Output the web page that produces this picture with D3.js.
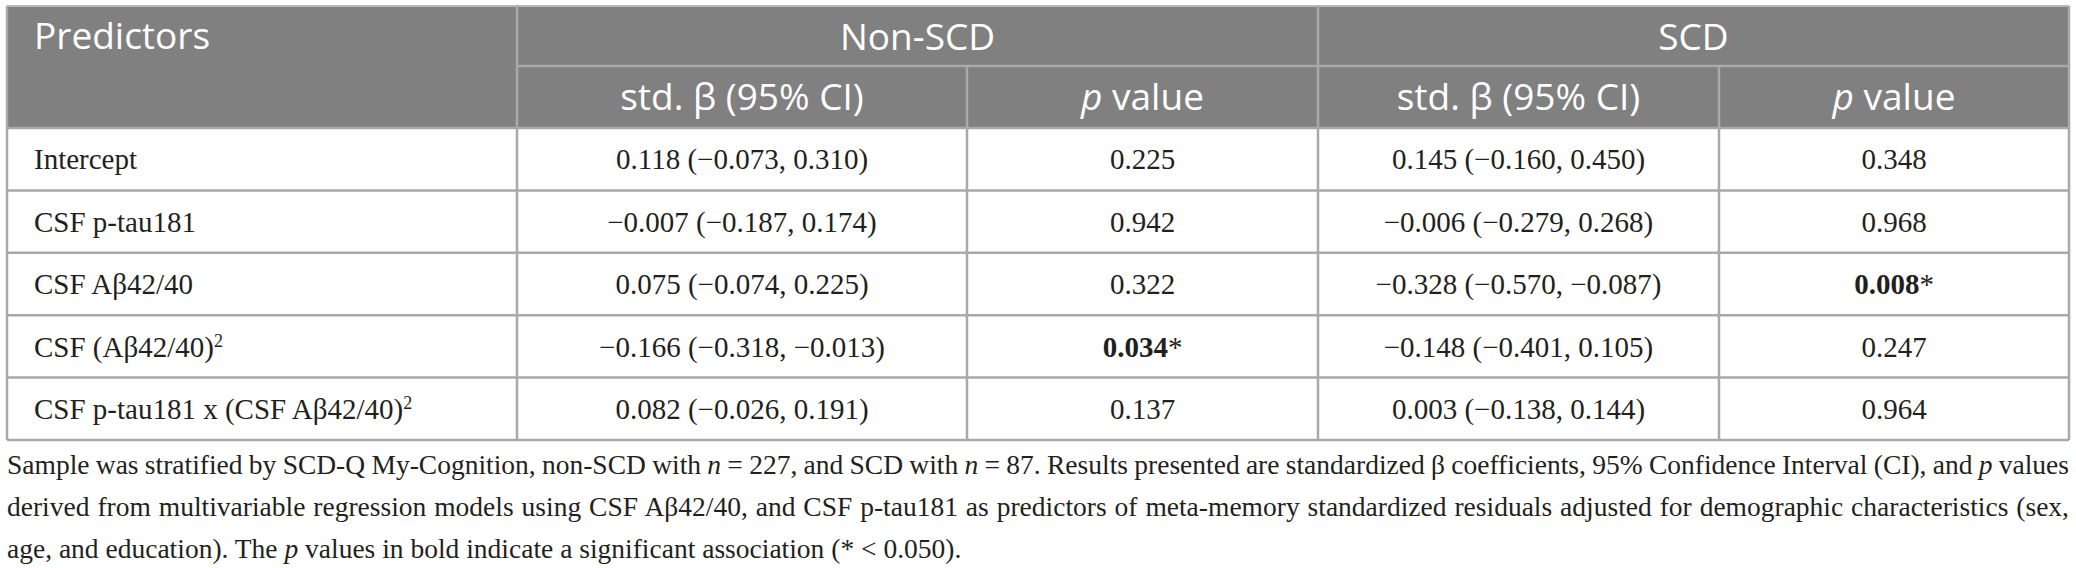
<!DOCTYPE html>
<html>
<head>
<meta charset="utf-8">
<script src="https://cdn.jsdelivr.net/npm/d3@7"></script>
<style>
  body { margin: 0; background: #fff; }
  svg { display: block; }
</style>
</head>
<body>
<svg id="chart" width="2076" height="568"></svg>
<script>
// table content
let groups = ["Non-SCD", "SCD"];
let subHeaders = ["std. β (95% CI)", "_p_ value"];
let predictors = ["Intercept", "CSF p-tau181", "CSF Aβ42/40", "CSF (Aβ42/40)^2", "CSF p-tau181 x (CSF Aβ42/40)^2"];
// [estimate, lower, upper]
let nonScdBeta = [[0.118, -0.073, 0.310], [-0.007, -0.187, 0.174], [0.075, -0.074, 0.225], [-0.166, -0.318, -0.013], [0.082, -0.026, 0.191]];
let nonScdP = [0.225, 0.942, 0.322, 0.034, 0.137];
let scdBeta = [[0.145, -0.160, 0.450], [-0.006, -0.279, 0.268], [-0.328, -0.570, -0.087], [-0.148, -0.401, 0.105], [0.003, -0.138, 0.144]];
let scdP = [0.348, 0.968, 0.008, 0.247, 0.964];
let alpha = 0.05;
let footnoteLines = [
  "Sample was stratified by SCD-Q My-Cognition, non-SCD with _n_ = 227, and SCD with _n_ = 87. Results presented are standardized β coefficients, 95% Confidence Interval (CI), and _p_ values",
  "derived from multivariable regression models using CSF Aβ42/40, and CSF p-tau181 as predictors of meta-memory standardized residuals adjusted for demographic characteristics (sex,",
  "age, and education). The _p_ values in bold indicate a significant association (* < 0.050)."
];

let svg = d3.select("#chart");
let fmt = d3.format(".3f"); // d3 v7 uses the real minus sign

let left = 7, right = 2069;
let colEdges = [left, 517, 967, 1318, 1719, right];
let headTop = 6, headMid = 66, headBottom = 128, tableBottom = 440;
let lineColor = "#a9a9a9";
let headFill = "#808080";
let serif = "'Liberation Serif', 'Times New Roman', serif";
let sans = "'Open Sans', 'Noto Sans', sans-serif";

let y = d3.scaleBand().domain(predictors).range([headBottom, tableBottom]);

// writes "_italic_" and "^sup" markup into tspans
function richText(sel, str, supSize) {
  let parts = str.split(/(\^\d+)/);
  parts.forEach(function (p) {
    if (p.startsWith("^")) {
      sel.append("tspan").attr("baseline-shift", "super").attr("font-size", supSize).text(p.slice(1));
      return;
    }
    p.split("_").forEach(function (s, i) {
      if (s === "") return;
      let t = sel.append("tspan").text(s);
      if (i % 2 == 1) t.attr("font-style", "italic");
    });
  });
}

// header background
svg.append("rect")
  .attr("x", left).attr("y", headTop)
  .attr("width", right - left).attr("height", headBottom - headTop)
  .attr("fill", headFill);

// body rows
let rows = predictors.map(function (d, i) {
  return {
    label: d,
    cells: [nonScdBeta[i], nonScdP[i], scdBeta[i], scdP[i]]
  };
});

// header texts
svg.append("text")
  .attr("x", 34).attr("y", 49)
  .attr("font-family", sans).attr("font-size", 37).attr("fill", "#fff")
  .text("Predictors");

svg.selectAll(".group")
  .data(groups)
  .enter()
  .append("text")
  .attr("class", "group")
  .attr("x", function (d, i) { return (colEdges[1 + i * 2] + colEdges[3 + i * 2]) / 2; })
  .attr("y", 50)
  .attr("text-anchor", "middle")
  .attr("font-family", sans).attr("font-size", 37).attr("fill", "#fff")
  .text(function (d) { return d; });

[0, 1, 2, 3].forEach(function (c) {
  let t = svg.append("text")
    .attr("x", (colEdges[c + 1] + colEdges[c + 2]) / 2)
    .attr("y", 110)
    .attr("text-anchor", "middle")
    .attr("font-family", sans).attr("font-size", 37).attr("fill", "#fff");
  richText(t, subHeaders[c % 2], 24);
});

// body texts
let rowG = svg.selectAll(".row")
  .data(rows)
  .enter()
  .append("g")
  .attr("class", "row")
  .attr("transform", function (d) { return "translate(0," + (y(d.label) + y.bandwidth() / 2) + ")"; });

rowG.append("text")
  .attr("x", 34).attr("dy", "0.35em")
  .attr("font-family", serif).attr("font-size", 29).attr("fill", "#231f20")
  .each(function (d) { richText(d3.select(this), d.label, 18); });

rowG.selectAll(".cell")
  .data(function (d) { return d.cells; })
  .enter()
  .append("text")
  .attr("class", "cell")
  .attr("x", function (d, i) { return (colEdges[i + 1] + colEdges[i + 2]) / 2; })
  .attr("dy", "0.35em")
  .attr("text-anchor", "middle")
  .attr("font-family", serif).attr("font-size", 29).attr("fill", "#231f20")
  .each(function (d) {
    let t = d3.select(this);
    if (Array.isArray(d)) {
      t.text(fmt(d[0]) + " (" + fmt(d[1]) + ", " + fmt(d[2]) + ")");
    } else if (d < alpha) {
      t.append("tspan").attr("font-weight", "bold").text(fmt(d));
      t.append("tspan").text("*");
    } else {
      t.text(fmt(d));
    }
  });

// grid lines
let hLines = [];
predictors.forEach(function (d) { hLines.push([left, right, y(d)]); });
hLines.push([left, right, tableBottom]);
svg.selectAll(".hline")
  .data(hLines)
  .enter()
  .append("line")
  .attr("x1", function (d) { return d[0]; })
  .attr("x2", function (d) { return d[1]; })
  .attr("y1", function (d) { return d[2]; })
  .attr("y2", function (d) { return d[2]; })
  .attr("stroke", lineColor).attr("stroke-width", 2.5);

// header inner lines
svg.append("line")
  .attr("x1", colEdges[1]).attr("x2", right)
  .attr("y1", headMid).attr("y2", headMid)
  .attr("stroke", lineColor).attr("stroke-width", 2.5);
svg.append("line")
  .attr("x1", left).attr("x2", right)
  .attr("y1", headTop).attr("y2", headTop)
  .attr("stroke", "#b8b8b8").attr("stroke-width", 2);

let vLines = [
  [colEdges[0], headTop, tableBottom],
  [colEdges[1], headTop, tableBottom],
  [colEdges[2], headMid, tableBottom],
  [colEdges[3], headTop, tableBottom],
  [colEdges[4], headMid, tableBottom],
  [colEdges[5], headTop, tableBottom]
];
svg.selectAll(".vline")
  .data(vLines)
  .enter()
  .append("line")
  .attr("x1", function (d) { return d[0]; })
  .attr("x2", function (d) { return d[0]; })
  .attr("y1", function (d) { return d[1]; })
  .attr("y2", function (d) { return d[2]; })
  .attr("stroke", lineColor).attr("stroke-width", 2.5);

// footnote, justified except the last line
let foot = svg.selectAll(".foot")
  .data(footnoteLines)
  .enter()
  .append("text")
  .attr("class", "foot")
  .attr("x", left)
  .attr("y", function (d, i) { return 474 + i * 42; })
  .attr("font-family", serif).attr("font-size", 27.5).attr("fill", "#231f20")
  .each(function (d) { richText(d3.select(this), d, 16); });

foot.each(function (d, i) {
  if (i == footnoteLines.length - 1) return;
  let w = this.getComputedTextLength();
  let spaces = d.split(" ").length - 1;
  d3.select(this).attr("word-spacing", (right - left - w) / spaces);
});
</script>
</body>
</html>
